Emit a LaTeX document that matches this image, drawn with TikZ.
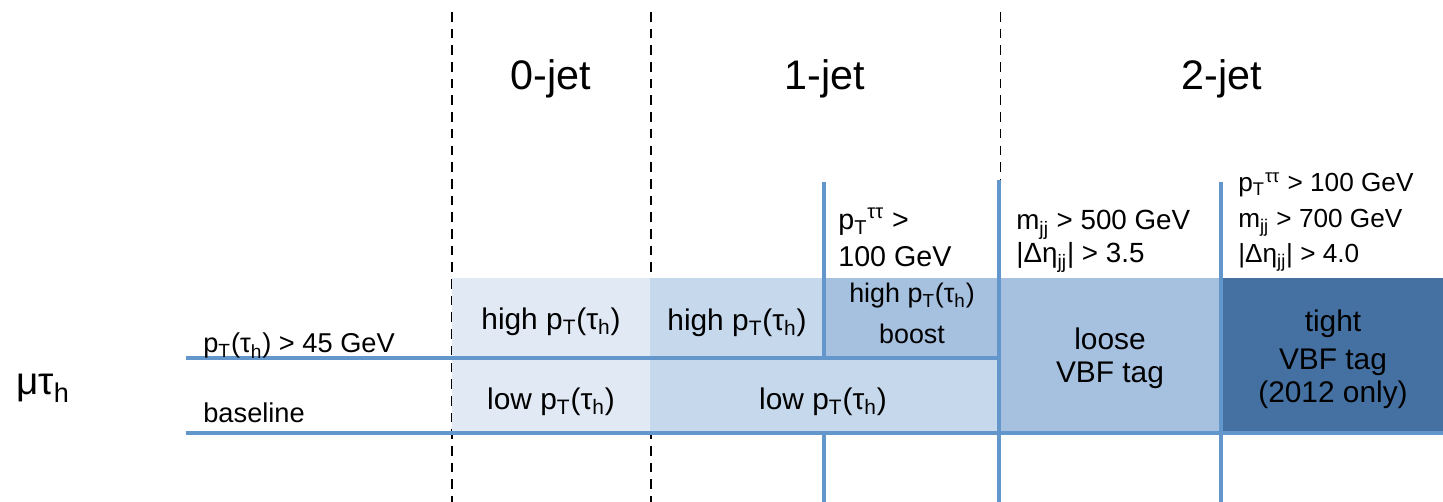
\documentclass[tikz,border=0pt]{standalone}
\usepackage{fontspec}
\setmainfont{Liberation Sans}
\definecolor{catA}{HTML}{E1E9F4}
\definecolor{catB}{HTML}{C5D8EC}
\definecolor{catC}{HTML}{A6C1E0}
\definecolor{catD}{HTML}{4471A1}
\definecolor{cutline}{HTML}{6397CC}
\newcommand{\ptt}{p\textsubscript{T}}
\newcommand{\tauh}{τ\textsubscript{h}}
\newcommand{\fs}[1]{\fontsize{#1}{1.2\dimexpr#1pt\relax}\selectfont}
\begin{document}
\begin{tikzpicture}[x=0.02cm,y=-0.02cm,
  every node/.style={inner sep=0pt},
  catbox/.style={draw=none,inner sep=0pt,anchor=north west},
  title/.style={anchor=base,font=\fs{23.5}},
  boxtext/.style={anchor=base,font=\fs{17}},
  cuttext/.style={anchor=base west,font=\fs{15.8}},
  sidetext/.style={anchor=base west,font=\fs{15.5}},
  jetsep/.style={draw=black,line width=1.1pt,dash pattern=on 5.5pt off 4pt},
  cut/.style={draw=cutline,line width=2.3pt}]
\useasboundingbox (0,0) rectangle (1443,502);

% jet-multiplicity separators
\coordinate (d0t) at (452,12);  \coordinate (d0b) at (452,502);
\coordinate (d1t) at (651,12);  \coordinate (d1b) at (651,502);
\coordinate (d2t) at (1000.5,12); \coordinate (d2b) at (1000.5,182);
\draw[jetsep] (d0t) -- (d0b);
\draw[jetsep] (d1t) -- (d1b);
\draw[jetsep] (d2t) -- (d2b);

% category boxes
\node[catbox,fill=catA,minimum width=198*0.02cm,minimum height=80*0.02cm] (hi0) at (452,278) {};
\node[catbox,fill=catA,minimum width=198*0.02cm,minimum height=75*0.02cm] (lo0) at (452,358) {};
\node[catbox,fill=catB,minimum width=174*0.02cm,minimum height=80*0.02cm] (hi1) at (650,278) {};
\node[catbox,fill=catC,minimum width=176*0.02cm,minimum height=80*0.02cm] (bst) at (824,278) {};
\node[catbox,fill=catB,minimum width=350*0.02cm,minimum height=75*0.02cm] (lo1) at (650,358) {};
\node[catbox,fill=catC,minimum width=221*0.02cm,minimum height=155*0.02cm] (vbfl) at (1000,278) {};
\node[catbox,fill=catD,minimum width=222*0.02cm,minimum height=155*0.02cm] (vbft) at (1221,278) {};

% cut lines
\coordinate (hl) at (186,358); \coordinate (hr) at (1000,358);
\coordinate (bl) at (186,433); \coordinate (br) at (1443,433);
\coordinate (v1t) at (824,182); \coordinate (v1m) at (824,358);
\coordinate (v1n) at (824,433); \coordinate (v1b) at (824,502);
\coordinate (v2t) at (999,180); \coordinate (v2b) at (999,502);
\coordinate (v3t) at (1221,182); \coordinate (v3b) at (1221,502);
\draw[cut] (hl) -- (hr);
\draw[cut] (bl) -- (br);
\draw[cut] (v1t) -- (v1m);
\draw[cut] (v1n) -- (v1b);
\draw[cut] (v2t) -- (v2b);
\draw[cut] (v3t) -- (v3b);

% column titles
\node[title] (t0) at (551,90) {0-jet};
\node[title] (t1) at (825,90) {1-jet};
\node[title] (t2) at (1222,90) {2-jet};

% channel label
\node[anchor=base west,font=\fs{22}] (chan) at (16,395) {μτ\textsubscript{h}};

% selection labels
\node[sidetext] (ptcut) at (203,353) {\ptt(\tauh) > 45 GeV};
\node[sidetext] (base) at (203,423) {baseline};

% category labels
\node[boxtext] (thi0) at (551,330) {high \ptt(\tauh)};
\node[boxtext] (tlo0) at (551,410) {low \ptt(\tauh)};
\node[boxtext] (thi1) at (737,331) {high \ptt(\tauh)};
\node[boxtext] (tlo1) at (823,410) {low \ptt(\tauh)};
\node[anchor=base,font=\fs{15.3}] (tb1) at (912,303) {high \ptt(\tauh)};
\node[anchor=base,font=\fs{15.3}] (tb2) at (912,344) {boost};
\node[boxtext] (tl1) at (1110,350) {loose};
\node[boxtext] (tl2) at (1110,383) {VBF tag};
\node[boxtext] (tt1) at (1333,332) {tight};
\node[boxtext] (tt2) at (1333,370) {VBF tag};
\node[boxtext] (tt3) at (1333,403) {(2012 only)};

% kinematic requirements
\node[cuttext,font=\fs{16.3}] (cb1) at (838,230) {\ptt\textsuperscript{ττ} >};
\node[cuttext,font=\fs{16.3}] (cb2) at (838,267) {100 GeV};
\node[cuttext] (cl1) at (1016,230) {m\textsubscript{jj} > 500 GeV};
\node[cuttext] (cl2) at (1016,263) {|Δη\textsubscript{jj}| > 3.5};
\node[cuttext,font=\fs{14.9}] (ct1) at (1238,192) {\ptt\textsuperscript{ττ} > 100 GeV};
\node[cuttext,font=\fs{14.9}] (ct2) at (1238,228) {m\textsubscript{jj} > 700 GeV};
\node[cuttext,font=\fs{14.9}] (ct3) at (1238,263) {|Δη\textsubscript{jj}| > 4.0};
\end{tikzpicture}
\end{document}
